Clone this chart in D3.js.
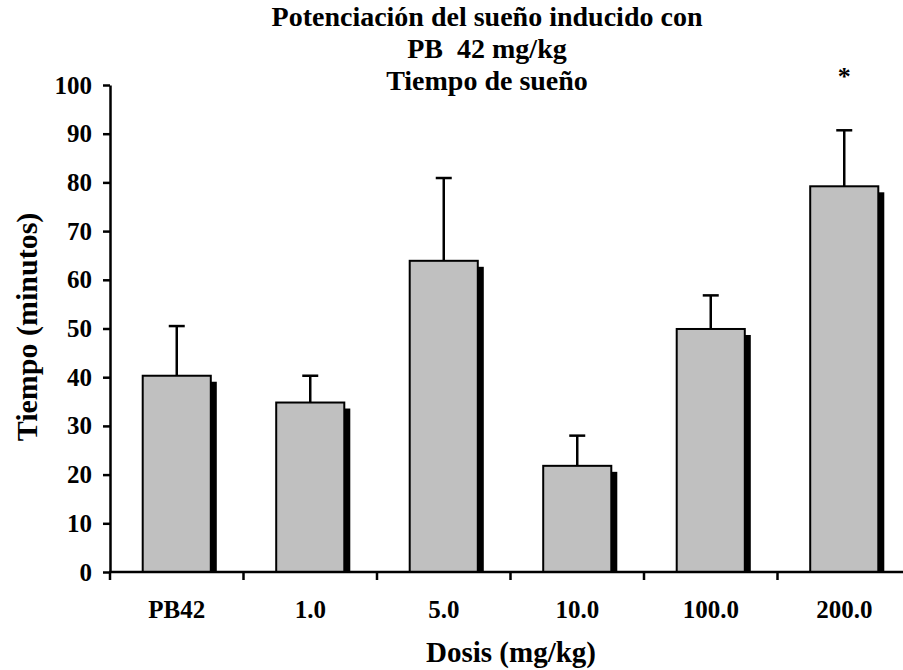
<!DOCTYPE html>
<html>
<head>
<meta charset="utf-8">
<script src="https://cdn.jsdelivr.net/npm/d3@7"></script>
<style>
  body { margin: 0; background: #fff; }
  svg { display: block; font-family: "Liberation Serif", "Times New Roman", serif; font-weight: bold; }
</style>
</head>
<body>
<svg></svg>
<script>
// data
var categories = ["PB42", "1.0", "5.0", "10.0", "100.0", "200.0"];
var means = [40.3, 34.8, 63.9, 21.8, 49.9, 79.2];
var errors = [10.2, 5.5, 17.0, 6.2, 6.9, 11.5];
var marks = ["", "", "", "", "", "*"];
var yTicks = [0, 10, 20, 30, 40, 50, 60, 70, 80, 90, 100];
var titleLines = ["Potenciación del sueño inducido con", "PB  42 mg/kg", "Tiempo de sueño"];

var svg = d3.select("svg").attr("width", 903).attr("height", 670),
    plotLeft = 110, plotRight = 911, plotTop = 85, plotBottom = 572;

var x = d3.scaleBand().domain(categories).range([plotLeft, plotRight])
    .paddingInner(0.49).paddingOuter(0.245);
var y = d3.scaleLinear().domain([0, 100]).range([plotBottom, plotTop]);

var data = categories.map(function(c, i) {
    return {cat: c, mean: means[i], err: errors[i], mark: marks[i]};
});

// title
svg.append("text")
    .attr("x", 487).attr("y", 26)
    .attr("text-anchor", "middle")
    .style("font-size", "28px")
    .style("white-space", "pre")
    .selectAll("tspan")
    .data(titleLines)
    .enter().append("tspan")
    .attr("x", 487)
    .attr("dy", function(d, i) { return i == 0 ? 0 : 32; })
    .text(function(d) { return d; });

// bars: shadow first, then grey box
var bars = svg.append("g").selectAll("g").data(data).enter().append("g");

bars.append("rect")
    .attr("x", function(d) { return x(d.cat) + 6; })
    .attr("y", function(d) { return y(d.mean) + 6; })
    .attr("width", x.bandwidth())
    .attr("height", function(d) { return plotBottom - y(d.mean) - 6; })
    .attr("fill", "#000");

bars.append("rect")
    .attr("x", function(d) { return x(d.cat); })
    .attr("y", function(d) { return y(d.mean); })
    .attr("width", x.bandwidth())
    .attr("height", function(d) { return plotBottom - y(d.mean); })
    .attr("fill", "#c0c0c0")
    .attr("stroke", "#000")
    .attr("stroke-width", 2);

// error bars (upper only)
bars.append("line")
    .attr("x1", function(d) { return x(d.cat) + x.bandwidth() / 2; })
    .attr("x2", function(d) { return x(d.cat) + x.bandwidth() / 2; })
    .attr("y1", function(d) { return y(d.mean); })
    .attr("y2", function(d) { return y(d.mean + d.err); })
    .attr("stroke", "#000").attr("stroke-width", 2.5);

bars.append("line")
    .attr("x1", function(d) { return x(d.cat) + x.bandwidth() / 2 - 8; })
    .attr("x2", function(d) { return x(d.cat) + x.bandwidth() / 2 + 8; })
    .attr("y1", function(d) { return y(d.mean + d.err); })
    .attr("y2", function(d) { return y(d.mean + d.err); })
    .attr("stroke", "#000").attr("stroke-width", 2.5);

bars.append("text")
    .attr("x", function(d) { return x(d.cat) + x.bandwidth() / 2; })
    .attr("y", 85)
    .attr("text-anchor", "middle")
    .style("font-size", "26px")
    .text(function(d) { return d.mark; });

// y axis
var yAxis = svg.append("g")
    .attr("transform", "translate(" + plotLeft + ",0)")
    .call(d3.axisLeft(y).tickValues(yTicks).tickSize(7).tickSizeOuter(0).tickPadding(11));
yAxis.selectAll("path, line").attr("stroke", "#000").attr("stroke-width", 2.5);
yAxis.selectAll("text")
    .style("font-family", "Liberation Serif, serif")
    .style("font-weight", "bold")
    .style("font-size", "25px")
    .attr("fill", "#000");

// x axis: line, ticks at band boundaries, labels at band centres
var xAxis = svg.append("g");
xAxis.append("line")
    .attr("x1", plotLeft - 1).attr("x2", plotRight)
    .attr("y1", plotBottom).attr("y2", plotBottom)
    .attr("stroke", "#000").attr("stroke-width", 2.5);
xAxis.selectAll(".tick")
    .data(d3.range(categories.length + 1))
    .enter().append("line")
    .attr("x1", function(i) { return plotLeft + i * x.step(); })
    .attr("x2", function(i) { return plotLeft + i * x.step(); })
    .attr("y1", plotBottom).attr("y2", plotBottom + 8)
    .attr("stroke", "#000").attr("stroke-width", 2.5);
xAxis.selectAll(".lab")
    .data(categories)
    .enter().append("text")
    .attr("x", function(d) { return x(d) + x.bandwidth() / 2; })
    .attr("y", 618)
    .attr("text-anchor", "middle")
    .style("font-size", "25px")
    .text(function(d) { return d; });

// axis titles
svg.append("text")
    .attr("transform", "translate(37,327) rotate(-90)")
    .attr("text-anchor", "middle")
    .style("font-size", "30px")
    .text("Tiempo (minutos)");

svg.append("text")
    .attr("x", 511).attr("y", 662)
    .attr("text-anchor", "middle")
    .style("font-size", "29px")
    .text("Dosis (mg/kg)");
</script>
</body>
</html>
